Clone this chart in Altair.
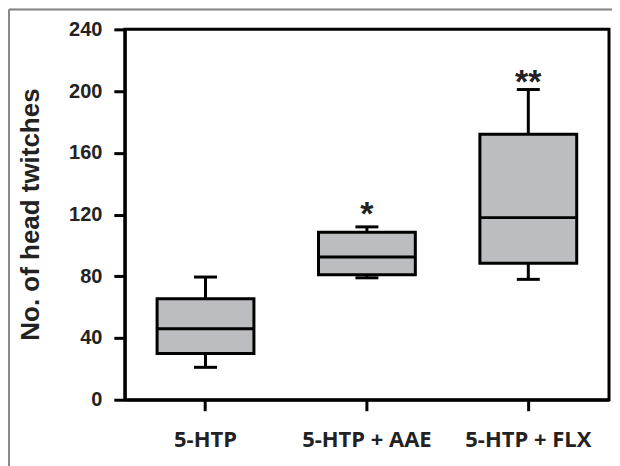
import altair as alt
import pandas as pd

groups = ["5-HTP", "5-HTP + AAE", "5-HTP + FLX"]
whisker_low = [21, 79, 78]
q1 = [30, 81, 88.5]
median = [46, 92.5, 118]
q3 = [65.5, 108.5, 172]
whisker_high = [79.5, 112, 201]
sig_labels = ["", "*", "**"]
sig_y = [0, 113, 199]

y_ticks = [0, 40, 80, 120, 160, 200, 240]

df = pd.DataFrame({
    "group": groups,
    "lo": whisker_low,
    "q1": q1,
    "med": median,
    "q3": q3,
    "hi": whisker_high,
    "sig": sig_labels,
    "sig_y": sig_y,
})

x_enc = alt.X(
    "group:N",
    sort=groups,
    scale=alt.Scale(paddingInner=0, paddingOuter=0),
    axis=alt.Axis(
        title=None,
        labelAngle=0,
        labelFont="Open Sans",
        labelFontWeight="bold",
        labelFontSize=22,
        labelColor="#222222",
        labelPadding=19,
        tickSize=11,
        tickWidth=3,
        tickColor="black",
        domainWidth=3,
        domainColor="black",
    ),
)

y_scale = alt.Scale(domain=[0, 240], nice=False)
y_axis = alt.Axis(
    title="No. of head twitches",
    values=y_ticks,
    grid=False,
    labelFont="Liberation Sans",
    labelFontWeight="bold",
    labelFontSize=20,
    labelColor="#222222",
    labelPadding=12,
    tickSize=11,
    tickWidth=3,
    tickColor="black",
    domainWidth=3,
    domainColor="black",
    titleFont="Liberation Sans",
    titleFontWeight="bold",
    titleFontSize=26,
    titleColor="#222222",
    titleX=-81,
    titleY=185,
)

base = alt.Chart(df)

upper_whisker = base.mark_rule(color="black", strokeWidth=3).encode(
    x=x_enc, y=alt.Y("q3:Q", scale=y_scale, axis=y_axis), y2="hi:Q"
)
lower_whisker = base.mark_rule(color="black", strokeWidth=3).encode(
    x=x_enc, y=alt.Y("lo:Q", scale=y_scale), y2="q1:Q"
)
box = base.mark_bar(size=97, fill="#bcbdc0", stroke="black", strokeWidth=3).encode(
    x=x_enc, y=alt.Y("q1:Q", scale=y_scale), y2="q3:Q"
)
med_tick = base.mark_tick(size=97, thickness=3, color="black", opacity=1).encode(
    x=x_enc, y=alt.Y("med:Q", scale=y_scale)
)
cap_hi = base.mark_tick(size=23, thickness=3, color="black", opacity=1).encode(
    x=x_enc, y=alt.Y("hi:Q", scale=y_scale)
)
cap_lo = base.mark_tick(size=23, thickness=3, color="black", opacity=1).encode(
    x=x_enc, y=alt.Y("lo:Q", scale=y_scale)
)
stars = base.transform_filter(alt.datum.sig != "").mark_text(
    font="Liberation Sans", fontWeight="bold", fontSize=34, color="#222222",
    baseline="alphabetic", align="center",
).encode(
    x=x_enc, y=alt.Y("sig_y:Q", scale=y_scale), text="sig:N"
)

frame_left = alt.Chart(df).mark_rule(color="#888888", strokeWidth=1.5).encode(
    x=alt.value(-116), y=alt.value(-20), y2=alt.value(440)
)
frame_top = alt.Chart(df).mark_rule(color="#888888", strokeWidth=1.5).encode(
    x=alt.value(-116), x2=alt.value(488), y=alt.value(-20)
)

chart = alt.layer(
    frame_left, frame_top,
    upper_whisker, lower_whisker, box, med_tick, cap_hi, cap_lo, stars
).properties(
    width=485,
    height=371,
    autosize=alt.AutoSizeParams(type="none"),
    padding={"left": 117, "top": 21, "right": 3, "bottom": 66},
    background="white",
).configure_view(
    stroke="black", strokeWidth=3
)

chart.save("out.html", embed_options={"renderer": "svg", "actions": False})
